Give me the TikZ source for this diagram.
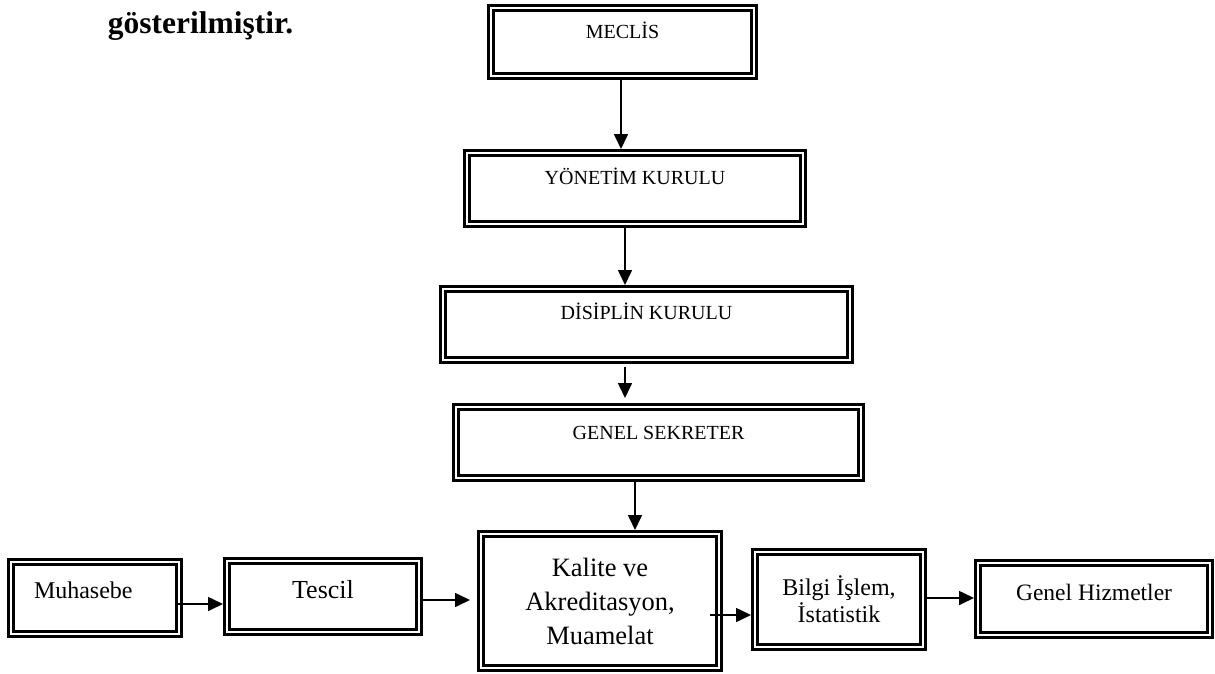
\documentclass[tikz,border=0pt]{standalone}
\usepackage{fontspec}
\setmainfont{Liberation Serif}
\usetikzlibrary{arrows.meta,calc}

\tikzset{
  kutu/.style={draw, double, double distance=2.2pt, line width=2.8pt, inner sep=0pt, outer sep=4pt, align=center},
  ok/.style={line width=1.6pt, -{Triangle[length=15pt,width=14pt]}}
}

\begin{document}
\begin{tikzpicture}[x=1pt,y=-1pt]
  \useasboundingbox (0,0) rectangle (1215,673);

  % Title
  \node[font=\bfseries\fontsize{31.5}{36}\selectfont, anchor=base] (baslik) at (200.5,33) {gösterilmiştir.};

  % Upper chain
  \node[kutu, minimum width=263pt, minimum height=68pt, font=\fontsize{20}{24}\selectfont, text height=13pt, text depth=20pt] (meclis) at (622.5,42) {MECLİS};
  \node[kutu, minimum width=336pt, minimum height=71pt, font=\fontsize{20}{24}\selectfont, text height=13pt, text depth=21pt] (yonetim) at (635,188.5) {YÖNETİM KURULU};
  \node[kutu, minimum width=407pt, minimum height=71pt, font=\fontsize{20}{24}\selectfont, text height=13pt, text depth=23pt] (disiplin) at (646.5,324.5) {DİSİPLİN KURULU};
  \node[kutu, minimum width=405pt, minimum height=71pt, font=\fontsize{20}{24}\selectfont, text height=13pt, text depth=19pt] (genel) at (658.5,442.5) {GENEL SEKRETER};

  % Bottom row
  \node[kutu, minimum width=168pt, minimum height=72pt, font=\fontsize{24}{28}\selectfont, text height=16pt, text depth=16pt, text width=122pt, align=left] (muhasebe) at (95,598) {Muhasebe};
  \node[kutu, minimum width=192pt, minimum height=71pt, font=\fontsize{26}{30}\selectfont, text height=17pt, text depth=13pt] (tescil) at (323,596.5) {Tescil};
  \node[kutu, minimum width=238pt, minimum height=134pt, font=\fontsize{26.5}{34}\selectfont] (kalite) at (600,601) {Kalite ve\\Akreditasyon,\\Muamelat};
  \node[kutu, minimum width=168pt, minimum height=95pt, font=\fontsize{24}{27}\selectfont] (bilgi) at (839,599.5) {Bilgi İşlem,\\İstatistik};
  \node[kutu, minimum width=232pt, minimum height=72pt, font=\fontsize{23.5}{28}\selectfont, text height=15.5pt, text depth=12pt] (genelhiz) at (1094,599) {Genel Hizmetler};

  % Vertical arrows
  \coordinate (c1) at ($(meclis.south)+(-1.5,0)$);
  \draw[ok] (c1) -- (c1 |- yonetim.north);
  \coordinate (y1) at ($(yonetim.south)+(-10,0)$);
  \draw[ok] (y1) -- (y1 |- disiplin.north);
  \coordinate (d1) at ($(disiplin.south)+(-21.5,3)$);
  \draw[ok, shorten >=5pt] (d1) -- (d1 |- genel.north);
  \coordinate (g1) at ($(genel.south)+(-23.5,0)$);
  \draw[ok] (g1) -- (g1 |- kalite.north);

  % Horizontal arrows
  \coordinate (m1) at ($(muhasebe.east)+(-5,6)$);
  \draw[ok] (m1) -- (m1 -| tescil.west);
  \coordinate (t1) at ($(tescil.east)+(0,3.5)$);
  \draw[ok, shorten >=7pt] (t1) -- (t1 -| kalite.west);
  \coordinate (k1) at ($(kalite.east)+(-13,14)$);
  \draw[ok] (k1) -- (k1 -| bilgi.west);
  \coordinate (b1) at ($(bilgi.east)+(0,-1.5)$);
  \draw[ok] (b1) -- (b1 -| genelhiz.west);
\end{tikzpicture}
\end{document}
